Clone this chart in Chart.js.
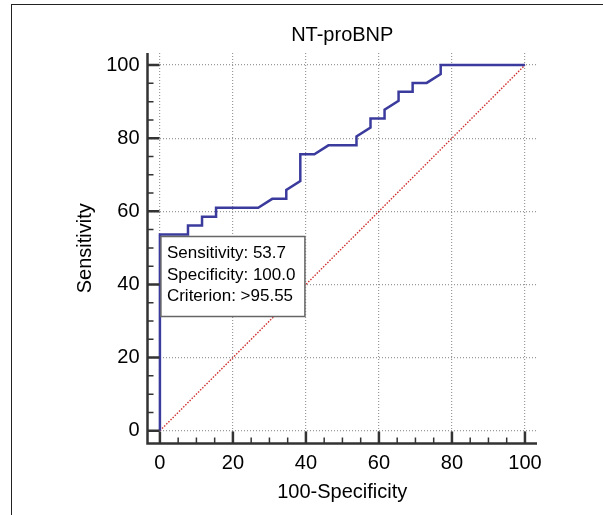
<!DOCTYPE html>
<html>
<head>
<meta charset="utf-8">
<title>NT-proBNP ROC</title>
<script src="https://cdn.jsdelivr.net/npm/chart.js@4.4.1/dist/chart.umd.min.js"></script>
<style>
  html, body { margin: 0; padding: 0; background: #fff; overflow: hidden; }
  .frame { position: absolute; left: 11px; top: 4px; right: -2px; bottom: -2px; border-left: 1px solid #222; border-top: 1px solid #222; }
  .chart-wrap { position: absolute; left: 0; top: 0; width: 603px; height: 515px; }
</style>
</head>
<body>
<div class="frame"></div>
<div class="chart-wrap"><canvas id="rocChart"></canvas></div>
<script>
// ROC curve points (100-Specificity, Sensitivity)
const specX = [0, 0, 7.69, 7.69, 11.54, 11.54, 15.38, 15.38, 26.92, 30.77, 34.62, 34.62, 38.46, 38.46,
    42.31, 46.15, 53.85, 53.85, 57.69, 57.69, 61.54, 61.54, 65.38, 65.38, 69.23, 69.23, 73.08, 76.92, 76.92, 100];
const sensY = [0, 53.66, 53.66, 56.10, 56.10, 58.54, 58.54, 60.98, 60.98, 63.41, 63.41, 65.85, 68.29, 75.61,
    75.61, 78.05, 78.05, 80.49, 82.93, 85.37, 85.37, 87.80, 90.24, 92.68, 92.68, 95.12, 95.12, 97.56, 100, 100];

// Diagonal reference line
const refX = [0, 100];
const refY = [0, 100];

const tickValues = [0, 20, 40, 60, 80, 100];
const minorStep = 5;

// Selected criterion
const criterion = { x: 0, y: 53.66 };
const infoLines = ['Sensitivity: 53.7', 'Specificity: 100.0', 'Criterion: >95.55'];

Chart.defaults.font.family = '"Liberation Sans", Arial, sans-serif';
Chart.defaults.color = '#000';

function toPoints(xs, ys) {
    return xs.map((v, i) => ({ x: v, y: ys[i] }));
}

// Axis lines with inward major/minor ticks
const axisTicks = {
    id: 'axisTicks',
    afterDatasetsDraw(chart) {
        const { ctx, chartArea: a, scales: { x, y } } = chart;
        ctx.save();
        ctx.strokeStyle = '#333';
        for (let v = 0; v <= 100; v += minorStep) {
            const major = tickValues.includes(v);
            const len = major ? 12 : 6;
            const px = x.getPixelForValue(v);
            const py = y.getPixelForValue(v);
            ctx.lineWidth = major ? 2.5 : 1.5;
            ctx.beginPath();
            ctx.moveTo(px, a.bottom);
            ctx.lineTo(px, a.bottom - len);
            ctx.moveTo(a.left, py);
            ctx.lineTo(a.left + len, py);
            ctx.stroke();
        }
        ctx.lineWidth = 2.5;
        ctx.beginPath();
        ctx.moveTo(a.left, a.top);
        ctx.lineTo(a.left, a.bottom);
        ctx.lineTo(a.right, a.bottom);
        ctx.stroke();
        ctx.restore();
    }
};

// Info box at the criterion point
const criterionBox = {
    id: 'criterionBox',
    afterDraw(chart) {
        const { ctx, scales: { x, y } } = chart;
        const left = x.getPixelForValue(criterion.x) + 1;
        const top = y.getPixelForValue(criterion.y) + 2;
        ctx.save();
        ctx.fillStyle = '#fff';
        ctx.fillRect(left, top, 144, 80);
        ctx.strokeStyle = '#666';
        ctx.lineWidth = 1.5;
        ctx.strokeRect(left, top, 144, 80);
        ctx.fillStyle = '#000';
        ctx.font = '17px "Liberation Sans", Arial, sans-serif';
        ctx.textBaseline = 'middle';
        infoLines.forEach((t, i) => {
            ctx.fillText(t, left + 6, top + 17 + i * 21.5);
        });
        ctx.restore();
    }
};

function initRocChart() {
    const ctx = document.getElementById('rocChart').getContext('2d');

    new Chart(ctx, {
        type: 'line',
        data: {
            datasets: [{
                data: toPoints(specX, sensY),
                borderColor: '#3b3b9e',
                borderWidth: 2.5,
                pointRadius: 0,
                tension: 0,
                fill: false
            }, {
                data: toPoints(refX, refY),
                borderColor: '#d03030',
                borderWidth: 1.4,
                borderDash: [1.5, 1.5],
                pointRadius: 0,
                fill: false
            }]
        },
        options: {
            responsive: true,
            maintainAspectRatio: false,
            animation: false,
            layout: { padding: { left: 0, right: 66, top: 0, bottom: 0 } },
            plugins: {
                legend: { display: false },
                tooltip: { enabled: false },
                title: {
                    display: true,
                    text: 'NT-proBNP',
                    fullSize: false,
                    color: '#000',
                    font: { size: 20, weight: 'normal' },
                    padding: { top: 23, bottom: 6 }
                }
            },
            scales: {
                x: {
                    type: 'linear',
                    min: -3.4,
                    max: 103.3,
                    afterBuildTicks: s => { s.ticks = tickValues.map(v => ({ value: v })); },
                    afterFit: s => { s.height = 71.5; },
                    grid: { color: '#999', lineWidth: 1.2, drawTicks: false },
                    border: { display: false, dash: [1, 2] },
                    ticks: { color: '#000', font: { size: 20 }, padding: 8, maxRotation: 0 },
                    title: { display: true, text: '100-Specificity', color: '#000', font: { size: 20 }, padding: 11 }
                },
                y: {
                    type: 'linear',
                    min: -3.5,
                    max: 103.3,
                    afterBuildTicks: s => { s.ticks = tickValues.map(v => ({ value: v })); },
                    afterFit: s => { s.width = 147.5; },
                    grid: { color: '#999', lineWidth: 1.2, drawTicks: false },
                    border: { display: false, dash: [1, 2] },
                    ticks: { color: '#000', font: { size: 20 }, padding: 8 },
                    title: { display: true, text: 'Sensitivity', color: '#000', font: { size: 20 }, padding: 73 }
                }
            }
        },
        plugins: [axisTicks, criterionBox]
    });
}

document.addEventListener('DOMContentLoaded', () => {
    initRocChart();
});
</script>
</body>
</html>
